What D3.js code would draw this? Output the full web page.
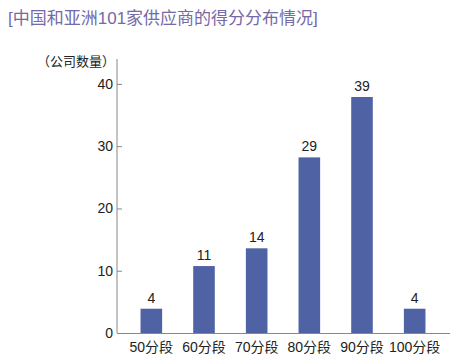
<!DOCTYPE html>
<html>
<head>
<meta charset="utf-8">
<script src="https://cdn.jsdelivr.net/npm/d3@7"></script>
<style>
body { margin: 0; background: #fff; }
svg text { font-family: "Liberation Sans", "Noto Sans CJK SC", sans-serif; }
</style>
</head>
<body>
<script>
//chart data
var categories = ["50分段", "60分段", "70分段", "80分段", "90分段", "100分段"];
var counts = [4, 11, 14, 29, 39, 4];                  //labels printed on the bars
var barValues = [3.9, 10.75, 13.6, 28.2, 37.9, 3.9];  //bar heights as drawn in the picture
var yTicks = [0, 10, 20, 30, 40];

var width = 460,
    height = 364;

var svg = d3.select("body")
    .append("svg")
    .attr("width", width)
    .attr("height", height);

//title
svg.append("text")
    .attr("x", 8)
    .attr("y", 24)
    .attr("fill", "#7569a6")
    .style("font-size", "17px")
    .text("[中国和亚洲101家供应商的得分分布情况]");

//scales
var x = d3.scaleBand()
    .domain(categories)
    .range([125, 441])
    .paddingInner(0.59)
    .paddingOuter(0.295);

var y = d3.scaleLinear()
    .domain([0, 44])
    .range([333, 59]);

//y axis, ticks point inward
var yAxis = svg.append("g")
    .attr("transform", "translate(117,0)")
    .call(d3.axisRight(y).tickValues(yTicks).tickSize(5).tickFormat(""));
yAxis.select(".domain").attr("stroke", "#888").attr("d", "M0,59V333");
yAxis.selectAll(".tick line").attr("stroke", "#888");

svg.selectAll(".ylab")
    .data(yTicks)
    .enter()
    .append("text")
    .attr("class", "ylab")
    .attr("x", 113)
    .attr("y", function(d){ return y(d) + 5; })
    .attr("text-anchor", "end")
    .style("font-size", "14px")
    .attr("fill", "#222")
    .text(function(d){ return d; });

//y axis title
svg.append("text")
    .attr("x", 115)
    .attr("y", 66)
    .attr("text-anchor", "end")
    .style("font-size", "13px")
    .attr("fill", "#222")
    .text("（公司数量）");

//x axis line
svg.append("line")
    .attr("x1", 117)
    .attr("x2", 450)
    .attr("y1", y(0) + 0.5)
    .attr("y2", y(0) + 0.5)
    .attr("stroke", "#888");

//bars
svg.selectAll(".bar")
    .data(barValues)
    .enter()
    .append("rect")
    .attr("class", "bar")
    .attr("x", function(d, i){ return x(categories[i]); })
    .attr("width", x.bandwidth())
    .attr("y", function(d){ return y(d); })
    .attr("height", function(d){ return y(0) - y(d); })
    .attr("fill", "#4f62a4");

//value labels
svg.selectAll(".num")
    .data(counts)
    .enter()
    .append("text")
    .attr("class", "num")
    .attr("x", function(d, i){ return x(categories[i]) + x.bandwidth() / 2; })
    .attr("y", function(d, i){ return y(barValues[i]) - 6; })
    .attr("text-anchor", "middle")
    .style("font-size", "14px")
    .attr("fill", "#222")
    .text(function(d){ return d; });

//category labels
svg.selectAll(".cat")
    .data(categories)
    .enter()
    .append("text")
    .attr("class", "cat")
    .attr("x", function(d){ return x(d) + x.bandwidth() / 2; })
    .attr("y", 352)
    .attr("text-anchor", "middle")
    .style("font-size", "14px")
    .attr("fill", "#222")
    .text(function(d){ return d; });
</script>
</body>
</html>
